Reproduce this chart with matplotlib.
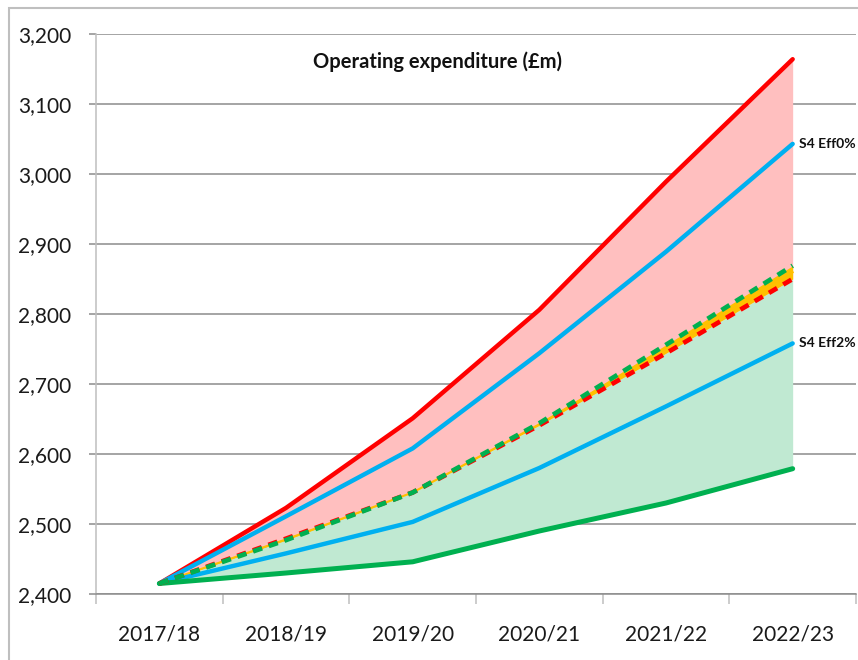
import matplotlib
matplotlib.use("Agg")
import matplotlib.pyplot as plt
from matplotlib.patches import Rectangle
from matplotlib.ticker import FuncFormatter, FixedLocator
import numpy as np

years = ["2017/18", "2018/19", "2019/20", "2020/21", "2021/22", "2022/23"]
upper_red = [2415, 2523, 2651, 2806, 2989, 3164]
s4_eff0 = [2415, 2511, 2608, 2744, 2889, 3043]
dashed_green = [2415, 2477, 2545, 2644, 2756, 2869]
dashed_red = [2415, 2479, 2545, 2641, 2744, 2850]
s4_eff2 = [2415, 2458, 2503, 2580, 2668, 2758]
lower_green = [2415, 2430, 2446, 2490, 2530, 2579]
title = "Operating expenditure (£m)"
label_eff0 = "S4 Eff0%"
label_eff2 = "S4 Eff2%"

plt.rcParams['font.family'] = ['Lato', 'DejaVu Sans']

W, H = 858, 660
fig = plt.figure(figsize=(W / 100, H / 100), dpi=100)
ax = fig.add_axes([96 / W, 1 - 594 / H, (856 - 96) / W, (594 - 34) / H])

x = np.arange(len(years))
lo = np.minimum(dashed_red, dashed_green)
hi = np.maximum(dashed_red, dashed_green)

ax.fill_between(x, dashed_red, upper_red, color="#FFBFBF", lw=0, zorder=1)
ax.fill_between(x, lower_green, dashed_red, color="#C0E9D2", lw=0, zorder=1)
ax.fill_between(x, lo, hi, color="#FFC000", lw=0, zorder=3)
ax.plot(x, (lo + hi) / 2, color="#FFC000", lw=1.5, zorder=3)

ax.plot(x, upper_red, color="#FF0000", lw=3.2, solid_capstyle="round", zorder=4)
ax.plot(x, s4_eff0, color="#00B0F0", lw=3.2, solid_capstyle="round", zorder=4)
ax.plot(x, s4_eff2, color="#00B0F0", lw=3.2, solid_capstyle="round", zorder=4)
ax.plot(x, dashed_red, color="#FF0000", lw=3.4, dashes=(2.0, 1.5), zorder=5)
ax.plot(x, dashed_green, color="#00B050", lw=3.4, dashes=(2.0, 1.5), zorder=5)
ax.plot(x, lower_green, color="#00B050", lw=3.6, solid_capstyle="round", zorder=4)

ax.set_xlim(-0.5, len(years) - 0.5)
ax.set_ylim(2400, 3200)
ax.set_yticks(np.arange(2400, 3201, 100))
ax.yaxis.set_major_formatter(FuncFormatter(lambda v, p: f"{int(v):,}"))
ax.grid(axis="y", color="#8C8C8C", lw=1.1, zorder=0)
ax.set_axisbelow(True)

ax.xaxis.set_major_locator(FixedLocator(np.arange(-0.5, len(years), 1.0)))
ax.xaxis.set_major_formatter(FuncFormatter(lambda v, p: ""))
ax.set_xticks(x, minor=True)
ax.set_xticklabels(years, minor=True)
ax.tick_params(axis="x", which="major", length=7.5, width=1.1, color="#BFBFBF", direction="out")
ax.tick_params(axis="x", which="minor", length=0, pad=22, labelsize=15, labelcolor="#1a1a1a")
ax.tick_params(axis="y", length=5, width=1.1, color="#8C8C8C", pad=13, labelsize=15, labelcolor="#1a1a1a")

for s in ["top", "right"]:
    ax.spines[s].set_visible(False)
ax.spines["left"].set_color("#BFBFBF")
ax.spines["left"].set_linewidth(1.1)
ax.spines["bottom"].set_color("#8C8C8C")
ax.spines["bottom"].set_linewidth(1.1)

ax.text(0.449, 0.95, title, transform=ax.transAxes, ha="center", va="center",
        fontsize=14.5, fontweight="bold", color="#111111")

for val, lab in [(s4_eff0[-1], label_eff0), (s4_eff2[-1], label_eff2)]:
    ax.annotate(lab, (x[-1], val), xytext=(4.5, 0), textcoords="offset points",
                ha="left", va="center", fontsize=10, fontweight="bold", color="#111111",
                annotation_clip=False)

fig.patches.append(Rectangle((8.5 / W, -0.1), 1.2, 1.1 - 7.5 / H, transform=fig.transFigure,
                             fill=False, edgecolor="#BFBFBF", lw=1.5))

fig.savefig("out.png", dpi=100)
